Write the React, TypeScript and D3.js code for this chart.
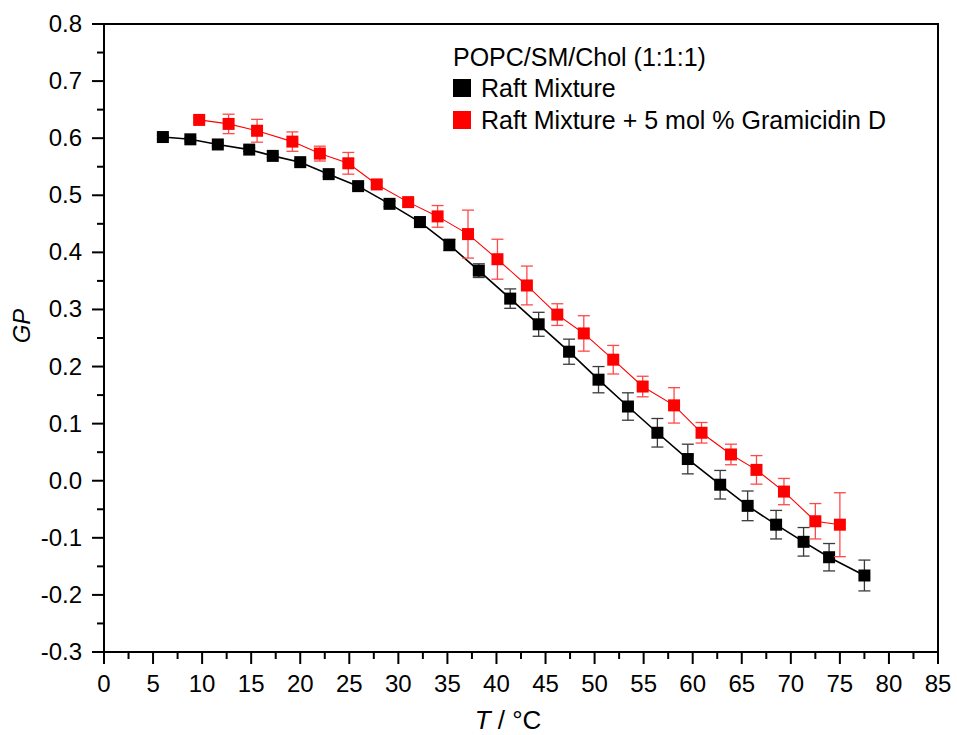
import React from "react";
import * as d3 from "d3";

const blackT = [6.0, 8.8, 11.6, 14.8, 17.2, 20.0, 22.9, 25.9, 29.1, 32.2, 35.2, 38.2, 41.4, 44.3, 47.4, 50.4, 53.4, 56.4, 59.5, 62.8, 65.6, 68.5, 71.3, 73.9, 77.5];
const blackGP = [0.602, 0.598, 0.589, 0.58, 0.569, 0.558, 0.537, 0.516, 0.485, 0.453, 0.413, 0.368, 0.319, 0.274, 0.226, 0.177, 0.13, 0.084, 0.038, -0.007, -0.044, -0.077, -0.107, -0.134, -0.166];
const blackErr = [0.003, 0.003, 0.003, 0.003, 0.003, 0.004, 0.004, 0.004, 0.005, 0.009, 0.01, 0.012, 0.017, 0.021, 0.022, 0.023, 0.024, 0.025, 0.026, 0.025, 0.026, 0.025, 0.025, 0.024, 0.027];

const redT = [9.7, 12.7, 15.6, 19.2, 22.0, 24.9, 27.8, 31.0, 34.0, 37.1, 40.1, 43.1, 46.2, 48.9, 51.9, 54.9, 58.1, 60.9, 63.9, 66.5, 69.3, 72.5, 75.0];
const redGP = [0.632, 0.625, 0.613, 0.594, 0.573, 0.556, 0.519, 0.488, 0.463, 0.432, 0.388, 0.342, 0.291, 0.258, 0.212, 0.165, 0.132, 0.084, 0.046, 0.019, -0.019, -0.071, -0.077];
const redErr = [0.004, 0.017, 0.02, 0.017, 0.013, 0.019, 0.005, 0.006, 0.019, 0.042, 0.035, 0.034, 0.019, 0.031, 0.025, 0.018, 0.031, 0.018, 0.018, 0.025, 0.023, 0.031, 0.056];

const xTicks = d3.range(0, 86, 5);
const xMinor = d3.range(2.5, 85, 5);
const yTicks = d3.range(-3, 9).map((v) => v / 10);
const yMinor = d3.range(-3, 8).map((v) => v / 10 + 0.05);

const legendTitle = "POPC/SM/Chol (1:1:1)";
const seriesNames = ["Raft Mixture", "Raft Mixture + 5 mol % Gramicidin D"];

const W = 957;
const H = 735;
const FONT = "'Liberation Sans', Arial, sans-serif";

export default function App() {
  const x = d3.scaleLinear().domain([0, 85]).range([104, 938]);
  const y = d3.scaleLinear().domain([-0.3, 0.8]).range([652, 24]);

  const series = [
    { T: blackT, GP: blackGP, err: blackErr, color: "#000000", errColor: "#3a3a3a", lw: 1.6 },
    { T: redT, GP: redGP, err: redErr, color: "#ff0000", errColor: "#ff4a4a", lw: 1.1 },
  ];

  const ms = 12;
  const cap = 6;

  return (
    <svg
      width={W}
      height={H}
      style={{ position: "absolute", left: 0, top: 0, background: "#fff" }}
      fontFamily={FONT}
    >
      <rect x={0} y={0} width={W} height={H} fill="#fff" />
      <rect x={x(0)} y={y(0.8)} width={x(85) - x(0)} height={y(-0.3) - y(0.8)} fill="none" stroke="#000" strokeWidth={2} />
      {xTicks.map((t) => (
        <g key={"xt" + t}>
          <line x1={x(t)} x2={x(t)} y1={y(-0.3)} y2={y(-0.3) + 12} stroke="#000" strokeWidth={2} />
          <text x={x(t)} y={692} textAnchor="middle" fontSize={24}>
            {t}
          </text>
        </g>
      ))}
      {xMinor.map((t) => (
        <line key={"xm" + t} x1={x(t)} x2={x(t)} y1={y(-0.3)} y2={y(-0.3) + 7} stroke="#000" strokeWidth={2} />
      ))}
      {yTicks.map((t) => (
        <g key={"yt" + t}>
          <line x1={x(0) - 12} x2={x(0)} y1={y(t)} y2={y(t)} stroke="#000" strokeWidth={2} />
          <text x={82} y={y(t) + 8} textAnchor="end" fontSize={24}>
            {t.toFixed(1)}
          </text>
        </g>
      ))}
      {yMinor.map((t) => (
        <line key={"ym" + t} x1={x(0) - 7} x2={x(0)} y1={y(t)} y2={y(t)} stroke="#000" strokeWidth={2} />
      ))}
      <text x={508} y={729} textAnchor="middle" fontSize={26}>
        <tspan fontStyle="italic">T</tspan>
        <tspan> / °C</tspan>
      </text>
      <text transform={`translate(30,326) rotate(-90)`} textAnchor="middle" fontSize={24} fontStyle="italic">
        GP
      </text>
      {series.map((s, si) => {
        const pts: [number, number][] = s.T.map((t, i) => [x(t), y(s.GP[i])]);
        const path = d3.line()(pts) || "";
        return (
          <g key={"s" + si}>
            <path d={path} fill="none" stroke={s.color} strokeWidth={s.lw} />
            {s.T.map((t, i) => {
              const cx = x(t);
              const y1 = y(s.GP[i] + s.err[i]);
              const y2 = y(s.GP[i] - s.err[i]);
              return (
                <g key={"e" + i} stroke={s.errColor} strokeWidth={1.3}>
                  <line x1={cx} x2={cx} y1={y1} y2={y2} />
                  <line x1={cx - cap} x2={cx + cap} y1={y1} y2={y1} />
                  <line x1={cx - cap} x2={cx + cap} y1={y2} y2={y2} />
                </g>
              );
            })}
            {s.T.map((t, i) => (
              <rect key={"m" + i} x={x(t) - ms / 2} y={y(s.GP[i]) - ms / 2} width={ms} height={ms} fill={s.color} />
            ))}
          </g>
        );
      })}
      <text x={453} y={66} fontSize={25}>
        {legendTitle}
      </text>
      <rect x={453} y={79} width={18} height={18} fill="#000" />
      <text x={481} y={97} fontSize={25}>
        {seriesNames[0]}
      </text>
      <rect x={453} y={111} width={18} height={18} fill="#ff0000" />
      <text x={481} y={129} fontSize={25}>
        {seriesNames[1]}
      </text>
    </svg>
  );
}
